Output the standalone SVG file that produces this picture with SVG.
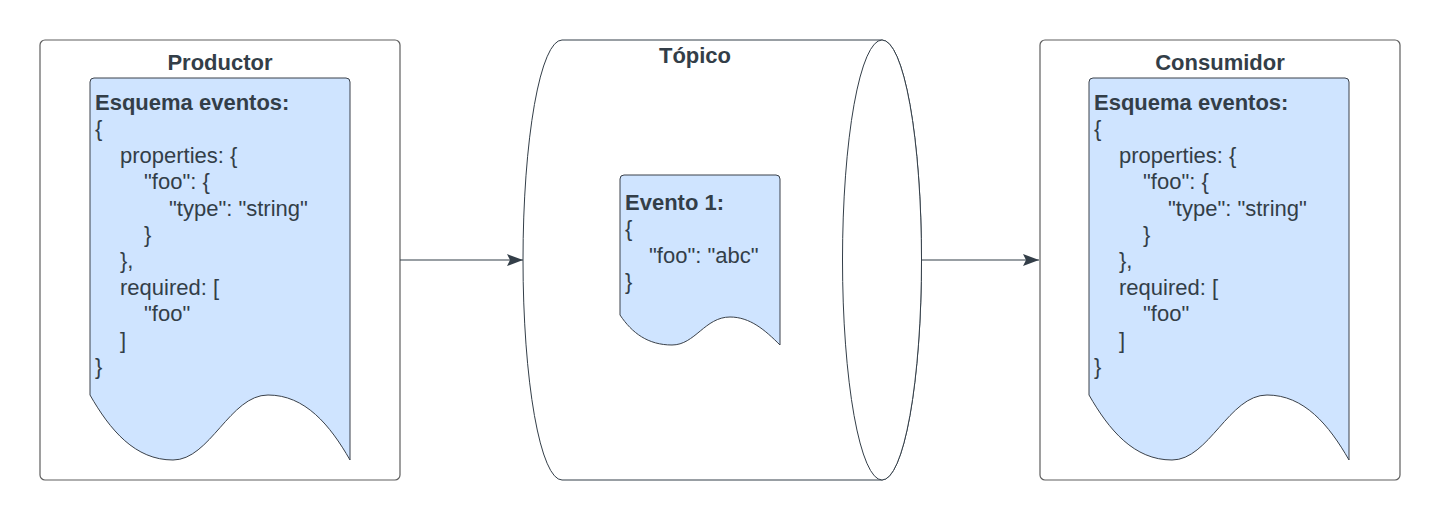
<svg xmlns="http://www.w3.org/2000/svg" width="1440" height="520" viewBox="0 0 1440 520">
<defs>
<marker id="arr" viewBox="0 0 16 12" refX="16" refY="6" markerWidth="16" markerHeight="12" markerUnits="userSpaceOnUse" orient="auto">
<path d="M0,0 L16,6 L0,12 L3,6 Z" fill="#333e48"/>
</marker>
</defs>
<style>
.frame{fill:#ffffff;stroke:#5e5e5e;stroke-width:1.2}
.doc{fill:#cfe4ff;stroke:#3a414a;stroke-width:1}
.cyl{fill:#ffffff;stroke:#333e48;stroke-width:1}
.title{font-family:"Liberation Sans",Arial,sans-serif;font-size:22px;font-weight:bold;fill:#333e48;text-anchor:middle}
.h{font-family:"Liberation Sans",Arial,sans-serif;font-size:22px;font-weight:bold;fill:#333e48}
.t{font-family:"Liberation Sans",Arial,sans-serif;font-size:22px;fill:#333e48}
.conn{fill:none;stroke:#333e48;stroke-width:1.2}
</style>
<rect width="1440" height="520" fill="#ffffff"/>

<g id="productor">
<rect class="frame" x="40" y="40" width="360" height="440" rx="5"/>
<text class="title" x="220" y="70">Productor</text>
<path class="doc" d="M94,78 H346 Q350,78 350,82 V460 C330,425 305,395 268,395 C230,395 210,460 173,460 C135,460 110,430 90,395 V82 Q90,78 94,78 Z"/>
<text class="h" x="95" y="110">Esquema eventos:</text>
<text class="t" x="95" y="136.4">{</text>
<text class="t" x="120" y="162.8">properties: {</text>
<text class="t" x="144" y="189.2">"foo": {</text>
<text class="t" x="169" y="215.6">"type": "string"</text>
<text class="t" x="144" y="242">}</text>
<text class="t" x="120" y="268.4">},</text>
<text class="t" x="120" y="294.8">required: [</text>
<text class="t" x="144" y="321.2">"foo"</text>
<text class="t" x="120" y="347.6">]</text>
<text class="t" x="95" y="374">}</text>
</g>

<g id="topico">
<path class="cyl" d="M562,40 H882 A39.5,220 0 0 1 882,480 H562 A39,220 0 0 1 562,40 Z"/>
<ellipse class="cyl" cx="882" cy="260" rx="39.5" ry="220"/>
<text class="title" x="695" y="63">Tópico</text>
<g id="evento1">
<path class="doc" d="M624,175 H776 Q780,175 780,179 V345 C765,330 750,317 730,317 C705,317 695,345 672,345 C648,345 632,333 620,315 V179 Q620,175 624,175 Z"/>
<text class="h" x="625" y="210">Evento 1:</text>
<text class="t" x="625" y="236.4">{</text>
<text class="t" x="649" y="262.8">"foo": "abc"</text>
<text class="t" x="625" y="289.2">}</text>
</g>
</g>

<g id="consumidor">
<rect class="frame" x="1040" y="40" width="360" height="440" rx="5"/>
<text class="title" x="1220" y="70">Consumidor</text>
<path class="doc" d="M1093,78 H1345 Q1349,78 1349,82 V460 C1329,425 1304,395 1267,395 C1229,395 1209,460 1172,460 C1134,460 1109,430 1089,395 V82 Q1089,78 1093,78 Z"/>
<text class="h" x="1094" y="110">Esquema eventos:</text>
<text class="t" x="1094" y="136.4">{</text>
<text class="t" x="1119" y="162.8">properties: {</text>
<text class="t" x="1143" y="189.2">"foo": {</text>
<text class="t" x="1168" y="215.6">"type": "string"</text>
<text class="t" x="1143" y="242">}</text>
<text class="t" x="1119" y="268.4">},</text>
<text class="t" x="1119" y="294.8">required: [</text>
<text class="t" x="1143" y="321.2">"foo"</text>
<text class="t" x="1119" y="347.6">]</text>
<text class="t" x="1094" y="374">}</text>
</g>

<g id="connectors">
<path class="conn" d="M400,260 H523" marker-end="url(#arr)"/>
<path class="conn" d="M921.5,260 H1039" marker-end="url(#arr)"/>
</g>
</svg>
